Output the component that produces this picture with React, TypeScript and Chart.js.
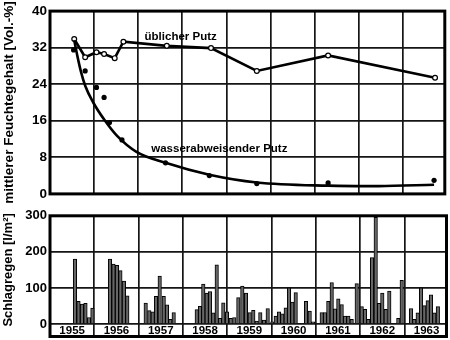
import React, { useEffect, useRef } from 'react';
import { Chart, registerables } from 'chart.js';

Chart.register(...registerables);

// ---------- data ----------
const yearLabels = [1955, 1956, 1957, 1958, 1959, 1960, 1961, 1962, 1963];
const moistureTicks = [0, 8, 16, 24, 32, 40];
const rainTicks = [0, 100, 200, 300];

// üblicher Putz (open circles)
const normalX = [1955.549, 1955.797, 1956.054, 1956.226, 1956.467, 1956.664, 1957.648, 1958.65, 1959.688, 1961.305, 1963.729];
const normalY = [33.9, 29.9, 31.0, 30.6, 29.7, 33.3, 32.4, 31.9, 26.9, 30.3, 25.4];

// wasserabweisender Putz (filled dots)
const repelX = [1955.535, 1955.797, 1956.054, 1956.226, 1956.348, 1956.632, 1957.619, 1958.612, 1959.688, 1961.305, 1963.707];
const repelY = [31.5, 26.9, 23.3, 21.1, 15.6, 11.8, 6.8, 4.0, 2.25, 2.4, 2.96];

// fitted curve for wasserabweisender Putz
const curveX = [1955.549, 1955.62, 1955.7, 1955.8, 1955.98, 1956.24, 1956.51, 1956.96, 1957.62, 1958.61, 1959.69, 1961.3, 1962.45, 1963.707];
const curveY = [33.6, 30.2, 26.8, 23.6, 20.0, 16.1, 12.8, 9.2, 6.8, 4.2, 2.5, 1.8, 1.7, 2.0];

// Schlagregen bars
const rainX = [
  1955.564, 1955.643, 1955.722, 1955.801, 1955.88, 1955.957,
  1956.354, 1956.433, 1956.512, 1956.589, 1956.668, 1956.745,
  1957.16, 1957.242, 1957.318, 1957.393, 1957.476, 1957.567, 1957.641, 1957.716, 1957.792,
  1958.312, 1958.386, 1958.46, 1958.537, 1958.612, 1958.686, 1958.763, 1958.837, 1958.912,
  1958.995, 1959.079, 1959.16, 1959.251, 1959.341, 1959.424, 1959.508, 1959.589, 1959.666, 1959.747, 1959.831, 1959.914,
  1960.018, 1960.095, 1960.169, 1960.244, 1960.321, 1960.395, 1960.47, 1960.546, 1960.779, 1960.862, 1960.937,
  1961.133, 1961.208, 1961.282, 1961.359, 1961.433, 1961.508, 1961.584, 1961.659, 1961.734, 1961.81, 1961.923,
  1962.036, 1962.111, 1962.185, 1962.269, 1962.352, 1962.427, 1962.501, 1962.578, 1962.659, 1962.862, 1962.939,
  1963.149, 1963.223, 1963.3, 1963.375, 1963.449, 1963.526, 1963.6, 1963.675, 1963.755,
];
const rainY = [
  180, 63, 55, 57, 18, 44,
  180, 166, 163, 148, 119, 78,
  58, 37, 34, 77, 133, 77, 53, 13, 32,
  40, 49, 111, 86, 90, 31, 164, 16, 59,
  34, 16, 18, 73, 105, 86, 32, 38, 8, 32, 11, 43,
  6, 22, 34, 28, 45, 100, 61, 87, 63, 36, 6,
  32, 32, 63, 115, 42, 70, 54, 22, 22, 13, 112,
  48, 41, 13, 184, 296, 57, 86, 41, 91, 16, 121,
  43, 13, 31, 100, 51, 65, 81, 31, 48,
];

const seriesLabels = ['üblicher Putz', 'wasserabweisender Putz'];
const labelAnchors = [
  { x: 1957.144, y: 33.7 },
  { x: 1957.296, y: 9.25 },
];

// ---------- styles ----------
const FONT = '"Liberation Sans", Arial, Helvetica, sans-serif';
const GRID = '#151515';
const GRID_W = 1.7;
const X_MIN = 1955;
const X_MAX = 1963.95;

const framePlugin = {
  id: 'frame',
  afterDraw(chart: any) {
    const { ctx, chartArea: a, scales } = chart;
    const bottom = Math.max(scales.x.bottom, a.bottom);
    ctx.save();
    ctx.strokeStyle = '#000';
    ctx.lineWidth = 3;
    ctx.strokeRect(a.left, a.top, a.right - a.left, bottom - a.top);
    ctx.restore();
  },
};

const textPlugin = {
  id: 'seriesText',
  afterDatasetsDraw(chart: any) {
    const { ctx, scales } = chart;
    ctx.save();
    ctx.fillStyle = '#000';
    ctx.font = `bold 11.5px ${FONT}`;
    ctx.textAlign = 'left';
    ctx.textBaseline = 'alphabetic';
    seriesLabels.forEach((t, i) => {
      const p = labelAnchors[i];
      ctx.fillText(t, scales.x.getPixelForValue(p.x), scales.y.getPixelForValue(p.y));
    });
    ctx.restore();
  },
};

const xScaleBase = (showLabels: boolean) => ({
  type: 'linear',
  min: X_MIN,
  max: X_MAX,
  offset: false,
  afterBuildTicks: (s: any) => {
    s.ticks = yearLabels.map((y) => ({ value: y + 0.5 }));
  },
  grid: {
    offset: true,
    color: GRID,
    lineWidth: GRID_W,
    drawTicks: showLabels,
    tickLength: 12.5,
  },
  border: { display: false },
  ticks: {
    display: showLabels,
    autoSkip: false,
    maxRotation: 0,
    padding: -12.8,
    color: '#000',
    font: { family: FONT, size: 11.5, weight: 'bold' },
    callback: (v: any) => String(Math.floor(v)),
  },
  afterFit: (s: any) => {
    s.height = showLabels ? 12.5 : 0;
  },
});

const yScaleBase = (min: number, max: number, ticks: number[], title: string, tickSize: number, titleSize: number) => ({
  type: 'linear',
  min,
  max,
  afterBuildTicks: (s: any) => {
    s.ticks = ticks.map((v) => ({ value: v }));
  },
  grid: { color: GRID, lineWidth: GRID_W, drawTicks: false },
  border: { display: false },
  ticks: {
    padding: 3,
    color: '#000',
    font: { family: FONT, size: tickSize, weight: 'bold' },
  },
  title: {
    display: true,
    text: title,
    color: '#000',
    padding: { top: 1, bottom: 0 },
    font: { family: FONT, size: titleSize, weight: 'bold' },
  },
  afterFit: (s: any) => {
    s.width = 50;
  },
});

export default function App() {
  const topRef = useRef<HTMLCanvasElement>(null);
  const botRef = useRef<HTMLCanvasElement>(null);

  useEffect(() => {
    const top = new Chart(topRef.current as HTMLCanvasElement, {
      type: 'line',
      data: {
        datasets: [
          {
            label: 'curve',
            data: curveX.map((x, i) => ({ x, y: curveY[i] })),
            borderColor: '#000',
            borderWidth: 2.6,
            pointRadius: 0,
            cubicInterpolationMode: 'monotone',
            fill: false,
          },
          {
            label: seriesLabels[1],
            data: repelX.map((x, i) => ({ x, y: repelY[i] })),
            showLine: false,
            pointRadius: 2.6,
            pointBackgroundColor: '#000',
            pointBorderColor: '#000',
            pointBorderWidth: 0,
          },
          {
            label: seriesLabels[0],
            data: normalX.map((x, i) => ({ x, y: normalY[i] })),
            borderColor: '#000',
            borderWidth: 2.6,
            tension: 0,
            pointRadius: 2.4,
            pointBackgroundColor: '#fff',
            pointBorderColor: '#000',
            pointBorderWidth: 1.2,
          },
        ],
      },
      options: {
        animation: false,
        responsive: false,
        devicePixelRatio: 1,
        layout: { padding: { top: 8, right: 3.5, bottom: 10.5, left: 0 } },
        plugins: { legend: { display: false }, tooltip: { enabled: false } },
        scales: {
          x: xScaleBase(false) as any,
          y: yScaleBase(0, 40, moistureTicks, 'mittlerer Feuchtegehalt [Vol.-%]', 13.5, 13.5) as any,
        },
      },
      plugins: [framePlugin, textPlugin],
    } as any);

    const bot = new Chart(botRef.current as HTMLCanvasElement, {
      type: 'bar',
      data: {
        datasets: [
          {
            label: 'Schlagregen',
            data: rainX.map((x, i) => ({ x, y: rainY[i] })),
            backgroundColor: '#666666',
            borderColor: '#000',
            borderWidth: 1,
            barThickness: 3.5,
          },
        ],
      },
      options: {
        animation: false,
        responsive: false,
        devicePixelRatio: 1,
        layout: { padding: { top: 10, right: 3.5, bottom: 3.5, left: 0 } },
        plugins: { legend: { display: false }, tooltip: { enabled: false } },
        scales: {
          x: xScaleBase(true) as any,
          y: yScaleBase(0, 300, rainTicks, 'Schlagregen [l/m²]', 13, 13) as any,
        },
      },
      plugins: [framePlugin],
    } as any);

    return () => {
      top.destroy();
      bot.destroy();
    };
  }, []);

  return (
    <div style={{ position: 'fixed', left: 0, top: 0, width: 450, height: 340, background: '#fff' }}>
      <canvas ref={topRef} width={450} height={205} style={{ position: 'absolute', left: 0, top: 0 }} />
      <canvas ref={botRef} width={450} height={135} style={{ position: 'absolute', left: 0, top: 205 }} />
    </div>
  );
}
